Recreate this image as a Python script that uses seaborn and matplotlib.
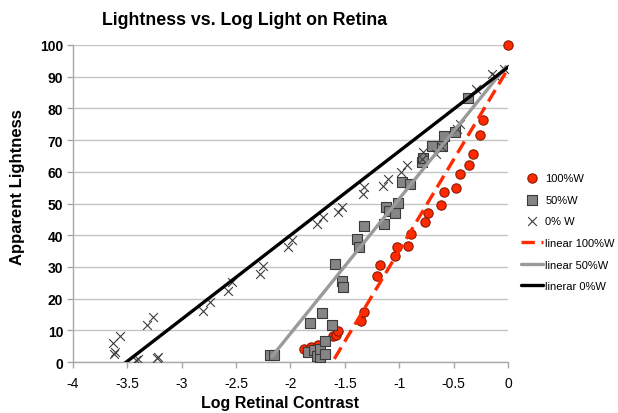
import matplotlib
matplotlib.use('Agg')
import matplotlib.pyplot as plt
import pandas as pd
import seaborn as sns
import numpy as np

# 100%W points (red circles)
x_100 = [-1.88, -1.81, -1.75, -1.77, -1.61, -1.58, -1.56, -1.35, -1.32, -1.20, -1.18, -1.04, -1.02,
         -0.92, -0.89, -0.76, -0.74, -0.62, -0.59, -0.48, -0.44, -0.36, -0.32, -0.26, -0.23, 0.0]
y_100 = [4.1, 4.9, 5.4, 3.5, 8.1, 8.6, 9.9, 12.9, 15.9, 27.3, 30.6, 33.6, 36.2,
         36.5, 40.4, 44.3, 47.1, 49.6, 53.5, 54.8, 59.3, 62.1, 65.6, 71.6, 76.4, 100.0]

# 50%W points (grey squares)
x_50 = [-2.19, -2.15, -1.84, -1.82, -1.78, -1.76, -1.73, -1.73, -1.71, -1.68, -1.68, -1.62, -1.59,
        -1.53, -1.52, -1.39, -1.37, -1.32, -1.14, -1.12, -1.09, -1.04, -1.01, -0.97, -0.90,
        -0.79, -0.78, -0.70, -0.61, -0.59, -0.49, -0.37]
y_50 = [2.3, 2.3, 3.1, 12.3, 3.9, 2.0, 1.5, 4.1, 15.4, 6.8, 2.5, 11.8, 30.9,
        25.5, 23.7, 38.8, 36.2, 42.8, 43.5, 48.8, 47.7, 47.0, 50.2, 56.9, 56.2,
        63.0, 64.4, 68.0, 68.2, 71.4, 72.4, 83.3]

# 0% W points (crosses)
x_0 = [-3.63, -3.57, -3.61, -3.62, -3.42, -3.40, -3.23, -3.22, -3.32, -3.26, -2.80, -2.74, -2.57,
       -2.54, -2.28, -2.25, -2.02, -1.99, -1.76, -1.70, -1.56, -1.53, -1.33, -1.32, -1.15, -1.10,
       -0.98, -0.93, -0.79, -0.78, -0.66, -0.61, -0.47, -0.44, -0.29, -0.15, -0.12, -0.04]
y_0 = [6.0, 8.1, 3.1, 2.5, 0.7, 1.0, 1.2, 1.5, 11.7, 14.1, 16.0, 18.8, 22.5,
       25.1, 27.8, 30.4, 36.2, 38.5, 43.5, 45.6, 47.2, 48.8, 53.0, 55.1, 55.4, 57.7,
       59.8, 62.0, 64.0, 66.3, 65.6, 67.8, 73.5, 75.1, 86.1, 90.9, 90.3, 92.4]

# trendlines: slope, intercept, x range
fit_100 = (57.3, 92.5, -1.88, 0.0)
fit_50 = (42.5, 94.0, -2.17, -0.02)
fit_0 = (26.5, 93.0, -3.63, 0.0)

legend_labels = ['100%W', '50%W', '0% W', 'linear 100%W', 'linear 50%W', 'linerar 0%W']


def fit_frame(fit):
    slope, icpt, x_lo, x_hi = fit
    xs = np.array([x_lo, x_hi])
    return pd.DataFrame({'x': xs, 'y': slope * xs + icpt})


sns.set_style('white')
plt.rcParams['font.family'] = ['Liberation Sans', 'DejaVu Sans']
plt.rcParams['text.color'] = 'black'
plt.rcParams['axes.labelcolor'] = 'black'

fig = plt.figure(figsize=(6.18, 4.14), dpi=100)
ax = fig.add_axes([0.118, 0.123, 0.704, 0.766])

df100 = pd.DataFrame({'x': x_100, 'y': y_100})
df50 = pd.DataFrame({'x': x_50, 'y': y_50})
df0 = pd.DataFrame({'x': x_0, 'y': y_0})

sns.scatterplot(data=df100, x='x', y='y', ax=ax, marker='o', s=45, color='#ff2a00',
                edgecolor='#8a1a00', linewidth=0.8, label=legend_labels[0], zorder=3,
                clip_on=False)
sns.scatterplot(data=df50, x='x', y='y', ax=ax, marker='s', s=52, color='#858585',
                edgecolor='#3a3a3a', linewidth=0.8, label=legend_labels[1], zorder=3)
sns.scatterplot(data=df0, x='x', y='y', ax=ax, marker='x', s=40, color='#3c3c3c',
                linewidth=0.8, label=legend_labels[2], zorder=3)

sns.lineplot(data=fit_frame(fit_100), x='x', y='y', ax=ax, color='#ff2a00', linewidth=2.4,
             label=legend_labels[3], zorder=4)
ax.lines[-1].set_dashes([4, 2])
sns.lineplot(data=fit_frame(fit_50), x='x', y='y', ax=ax, color='#9a9a9a', linewidth=2.4,
             label=legend_labels[4], zorder=4)
sns.lineplot(data=fit_frame(fit_0), x='x', y='y', ax=ax, color='black', linewidth=2.4,
             label=legend_labels[5], zorder=4)

ax.set_xlim(-4, 0)
ax.set_ylim(0, 100)
ax.set_xticks(np.arange(-4, 0.01, 0.5))
ax.set_xticklabels(['-4', '-3.5', '-3', '-2.5', '-2', '-1.5', '-1', '-0.5', '0'])
ax.set_yticks(np.arange(0, 101, 10))
ax.yaxis.grid(True, color='#c4c4c4', linewidth=1.0)
ax.xaxis.grid(False)
ax.set_axisbelow(True)
for side in ['top', 'right']:
    ax.spines[side].set_visible(False)
for side in ['left', 'bottom']:
    ax.spines[side].set_color('#a8a8a8')
    ax.spines[side].set_linewidth(1.0)
ax.tick_params(axis='both', which='both', direction='out', length=4, width=1, color='#a8a8a8',
               labelcolor='black', left=True, bottom=True)
ax.tick_params(axis='x', labelsize=10, pad=6)
ax.tick_params(axis='y', labelsize=10, pad=3)
for lab in ax.get_yticklabels():
    lab.set_fontweight('bold')

ax.set_xlabel('Log Retinal Contrast', fontsize=11.5, fontweight='bold')
ax.xaxis.set_label_coords(0.476, -0.105)
ax.set_ylabel('Apparent Lightness', fontsize=12, fontweight='bold')
ax.yaxis.set_label_coords(-0.11, 0.555)
fig.text(0.395, 0.95, 'Lightness vs. Log Light on Retina', ha='center', va='center',
         fontsize=12.8, fontweight='bold')

ax.legend(loc='center left', bbox_to_anchor=(0.843, 0.437), bbox_transform=fig.transFigure,
          frameon=False, fontsize=8, handlelength=2.0, labelspacing=1.05, handletextpad=0.2,
          borderaxespad=0, borderpad=0)

fig.savefig('out.png', dpi=100)
